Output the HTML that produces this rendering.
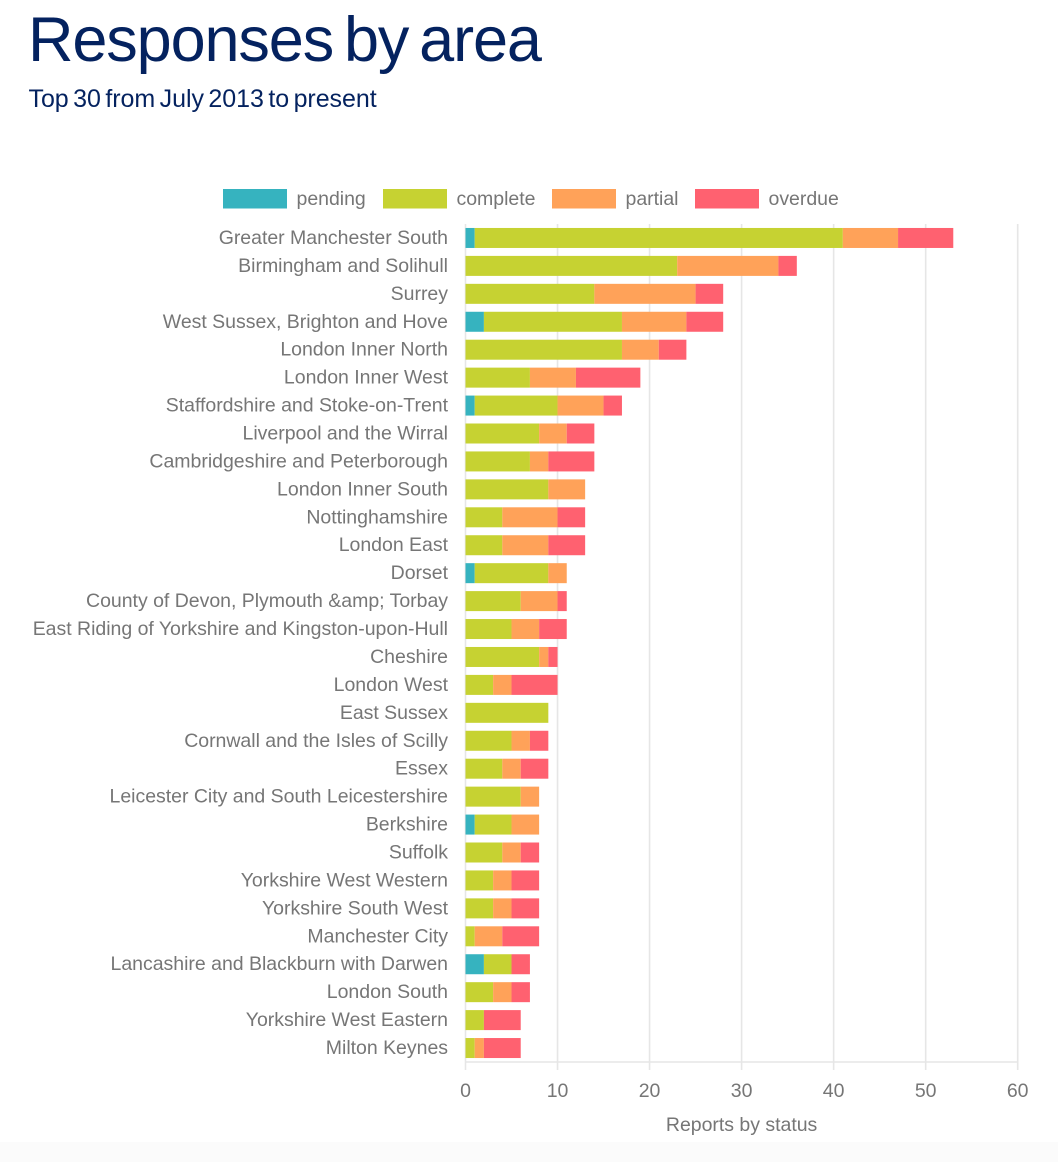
<!DOCTYPE html>
<html lang="en">
<head>
<meta charset="utf-8">
<title>Responses by area</title>
<style>
html,body{margin:0;padding:0;background:#fff;}
body{width:1058px;height:1162px;overflow:hidden;position:relative;font-family:"Liberation Sans",sans-serif;}
#chart{position:absolute;left:0;top:0;}
#foot{position:absolute;left:0;top:1142px;width:1058px;height:20px;background:#fbfbfb;}
h1{position:absolute;left:28px;top:4px;margin:0;font-weight:400;font-size:63px;line-height:72px;letter-spacing:-1.12px;word-spacing:-5.5px;color:#04225f;white-space:nowrap;}
h2{position:absolute;left:28.5px;top:84px;margin:0;font-weight:400;font-size:25px;line-height:30px;letter-spacing:-0.05px;word-spacing:-2.4px;color:#04225f;white-space:nowrap;}
svg text{letter-spacing:-0.02px;}
</style>
</head>
<body>
<div id="foot"></div>
<h1>Responses by area</h1>
<h2>Top 30 from July 2013 to present</h2>
<svg id="chart" width="1058" height="1162" viewBox="0 0 1058 1162"></svg>
<script>
const categories = ["Greater Manchester South","Birmingham and Solihull","Surrey","West Sussex, Brighton and Hove","London Inner North","London Inner West","Staffordshire and Stoke-on-Trent","Liverpool and the Wirral","Cambridgeshire and Peterborough","London Inner South","Nottinghamshire","London East","Dorset","County of Devon, Plymouth &amp; Torbay","East Riding of Yorkshire and Kingston-upon-Hull","Cheshire","London West","East Sussex","Cornwall and the Isles of Scilly","Essex","Leicester City and South Leicestershire","Berkshire","Suffolk","Yorkshire West Western","Yorkshire South West","Manchester City","Lancashire and Blackburn with Darwen","London South","Yorkshire West Eastern","Milton Keynes"];
const pending  = [1,0,0,2,0,0,1,0,0,0,0,0,1,0,0,0,0,0,0,0,0,1,0,0,0,0,2,0,0,0];
const complete = [40,23,14,15,17,7,9,8,7,9,4,4,8,6,5,8,3,9,5,4,6,4,4,3,3,1,3,3,2,1];
const partial  = [6,11,11,7,4,5,5,3,2,4,6,5,2,4,3,1,2,0,2,2,2,3,2,2,2,3,0,2,0,1];
const overdue  = [6,2,3,4,3,7,2,3,5,0,3,4,0,1,3,1,5,0,2,3,0,0,2,3,3,4,2,2,4,4];
const seriesNames = ["pending","complete","partial","overdue"];
const seriesValues = [pending,complete,partial,overdue];
const seriesColors = ["#36b3bf","#c6d232","#ffa259","#ff6170"];
const xTicks = [0,10,20,30,40,50,60];
const axisTitle = "Reports by status";

const svg = document.getElementById('chart');
const NS = 'http://www.w3.org/2000/svg';
const plot = {left:465.5,right:1017.7,top:224,bottom:1062};
const xMax = xTicks[xTicks.length-1];
const x = v => plot.left + (v/xMax)*(plot.right-plot.left);
const band = (plot.bottom-plot.top)/categories.length;
const y = i => plot.top + band*i + band/2;
const barH = 20;
const textColor = '#767676';
const fontSize = 19.5;

function mk(tag, attrs, parent){
  const el = document.createElementNS(NS, tag);
  for (const k in attrs) el.setAttribute(k, attrs[k]);
  (parent||svg).appendChild(el);
  return el;
}

xTicks.forEach(t => {
  const line = mk('line',{x1:x(t),x2:x(t),y1:plot.top,y2:plot.bottom+8,stroke:'#e6e6e6','stroke-width':1.6});
  
  
  const lab = mk('text',{x:x(t),y:1097,'text-anchor':'middle','font-size':fontSize,fill:textColor});
  lab.textContent = t;
  
  
});
const baseLine = mk('line',{x1:plot.left-0.5,x2:plot.right+0.5,y1:plot.bottom,y2:plot.bottom,stroke:'#e6e6e6','stroke-width':1.6});



categories.forEach((c,i) => {
  const lab = mk('text',{x:448,y:y(i)+6,'text-anchor':'end','font-size':fontSize,fill:textColor});
  lab.textContent = c;
  
  
  let acc = 0;
  seriesValues.forEach((vals,s) => {
    const v = vals[i];
    if (v > 0) {
      const r = mk('rect',{x:x(acc),y:y(i)-barH/2,width:x(acc+v)-x(acc),height:barH,fill:seriesColors[s]});
      
      
    }
    acc += v;
  });
});

const legendX = [223,383,552,695];
seriesNames.forEach((n,s) => {
  const sw = mk('rect',{x:legendX[s],y:189,width:64,height:19.5,fill:seriesColors[s]});
  
  
  const t = mk('text',{x:legendX[s]+73.5,y:205,'font-size':fontSize,fill:textColor});
  t.textContent = n;
  
  
});

const title = mk('text',{x:x(30),y:1131,'text-anchor':'middle','font-size':fontSize,fill:textColor});
title.textContent = axisTitle;


</script>
</body>
</html>
